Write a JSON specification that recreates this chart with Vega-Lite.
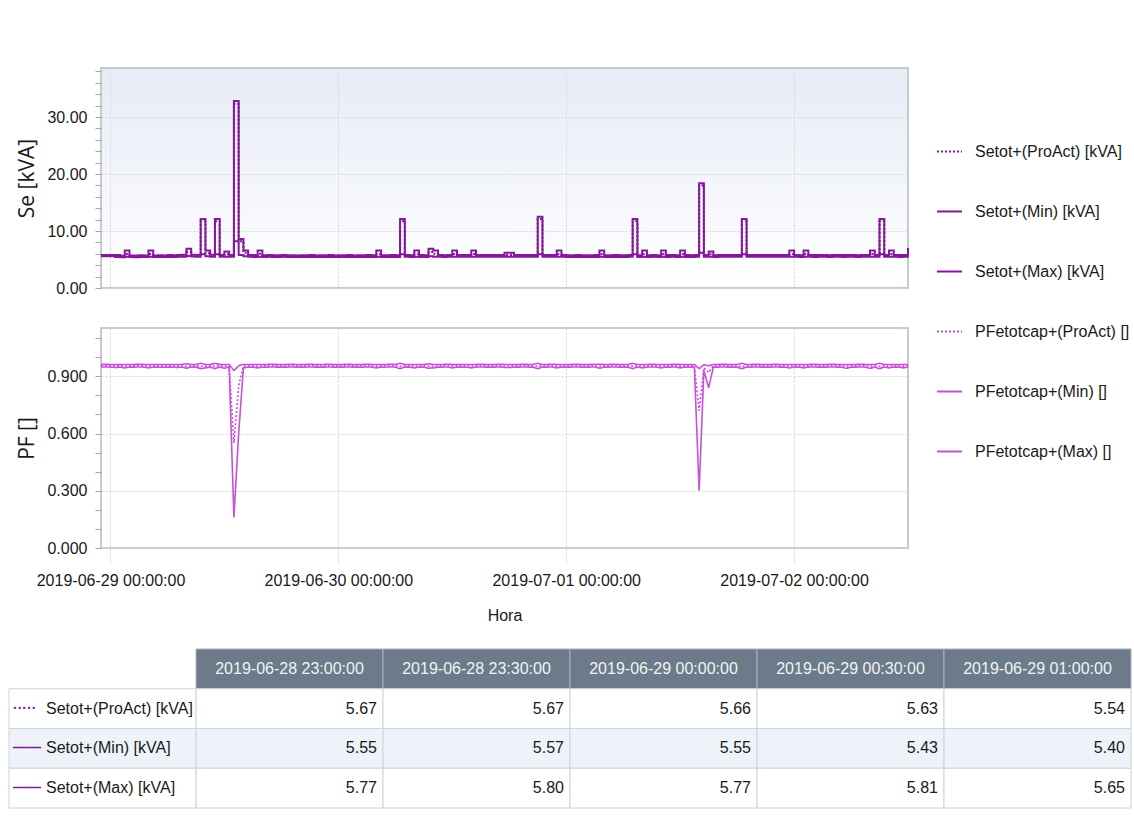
{
"$schema":"https://vega.github.io/schema/vega-lite/v6.json",
"padding":{"left":8,"top":67,"right":0,"bottom":0},
"background":"#ffffff",
"bounds":"flush",
"spacing":40,
"config":{
 "font":"Liberation Sans",
 "axis":{"labelFont":"Liberation Sans","titleFont":"Liberation Sans","labelFontSize":16,"titleFontSize":16,"labelColor":"#1a1a1a","titleColor":"#1a1a1a","titleFontWeight":"normal","domain":false,"gridColor":"#D4D4D4","gridDash":[2,2],"gridWidth":1,"tickColor":"#A6A6A6","labelLimit":400},
 "legend":{"orient":"none","legendX":835,"legendY":70,"title":null,"padding":0,"symbolType":"stroke","symbolSize":625,"symbolStrokeWidth":2,"labelFont":"Liberation Sans","labelFontSize":16,"labelColor":"#1a1a1a","labelOffset":12,"rowPadding":38,"labelLimit":400},
 "view":{"stroke":"#C6CBD1","strokeWidth":2}
},
"datasets":{"d":[
{"t":"2019-06-28T23:00","a":5.67,"n":5.55,"x":5.77,"pa":0.955,"pn":0.948,"px":0.962},
{"t":"2019-06-28T23:30","a":5.67,"n":5.57,"x":5.80,"pa":0.956,"pn":0.949,"px":0.963},
{"t":"2019-06-29T00:00","a":5.66,"n":5.55,"x":5.77,"pa":0.955,"pn":0.948,"px":0.962},
{"t":"2019-06-29T00:30","a":5.63,"n":5.43,"x":5.81,"pa":0.954,"pn":0.946,"px":0.962},
{"t":"2019-06-29T01:00","a":5.54,"n":5.40,"x":5.65,"pa":0.955,"pn":0.948,"px":0.961},
{"t":"2019-06-29T01:30","a":5.95,"n":5.48,"x":6.6,"pa":0.953,"pn":0.944,"px":0.962},
{"t":"2019-06-29T02:00","a":5.58,"n":5.44,"x":5.72,"pa":0.955,"pn":0.948,"px":0.962},
{"t":"2019-06-29T02:30","a":5.55,"n":5.41,"x":5.69,"pa":0.955,"pn":0.948,"px":0.962},
{"t":"2019-06-29T03:00","a":5.6,"n":5.46,"x":5.76,"pa":0.956,"pn":0.949,"px":0.963},
{"t":"2019-06-29T03:30","a":5.57,"n":5.42,"x":5.71,"pa":0.955,"pn":0.948,"px":0.962},
{"t":"2019-06-29T04:00","a":5.95,"n":5.48,"x":6.6,"pa":0.953,"pn":0.944,"px":0.962},
{"t":"2019-06-29T04:30","a":5.56,"n":5.42,"x":5.7,"pa":0.955,"pn":0.948,"px":0.962},
{"t":"2019-06-29T05:00","a":5.59,"n":5.45,"x":5.74,"pa":0.955,"pn":0.948,"px":0.962},
{"t":"2019-06-29T05:30","a":5.57,"n":5.43,"x":5.72,"pa":0.954,"pn":0.947,"px":0.962},
{"t":"2019-06-29T06:00","a":5.61,"n":5.46,"x":5.77,"pa":0.955,"pn":0.948,"px":0.962},
{"t":"2019-06-29T06:30","a":5.58,"n":5.44,"x":5.73,"pa":0.955,"pn":0.948,"px":0.962},
{"t":"2019-06-29T07:00","a":5.63,"n":5.48,"x":5.79,"pa":0.954,"pn":0.946,"px":0.962},
{"t":"2019-06-29T07:30","a":5.66,"n":5.5,"x":5.82,"pa":0.955,"pn":0.948,"px":0.962},
{"t":"2019-06-29T08:00","a":6.3,"n":5.6,"x":6.9,"pa":0.952,"pn":0.942,"px":0.966},
{"t":"2019-06-29T08:30","a":5.68,"n":5.52,"x":5.84,"pa":0.955,"pn":0.948,"px":0.962},
{"t":"2019-06-29T09:00","a":5.65,"n":5.5,"x":5.81,"pa":0.955,"pn":0.948,"px":0.962},
{"t":"2019-06-29T09:30","a":11.7,"n":5.9,"x":12.1,"pa":0.952,"pn":0.94,"px":0.968},
{"t":"2019-06-29T10:00","a":6.1,"n":5.55,"x":6.6,"pa":0.953,"pn":0.944,"px":0.962},
{"t":"2019-06-29T10:30","a":5.66,"n":5.5,"x":5.82,"pa":0.955,"pn":0.948,"px":0.962},
{"t":"2019-06-29T11:00","a":11.7,"n":5.9,"x":12.1,"pa":0.952,"pn":0.94,"px":0.968},
{"t":"2019-06-29T11:30","a":5.64,"n":5.49,"x":5.8,"pa":0.955,"pn":0.948,"px":0.962},
{"t":"2019-06-29T12:00","a":5.9,"n":5.5,"x":6.4,"pa":0.952,"pn":0.942,"px":0.962},
{"t":"2019-06-29T12:30","a":5.63,"n":5.48,"x":5.79,"pa":0.955,"pn":0.948,"px":0.962},
{"t":"2019-06-29T13:00","a":32.3,"n":8.2,"x":32.8,"pa":0.55,"pn":0.16,"px":0.93},
{"t":"2019-06-29T13:30","a":8.2,"n":5.8,"x":8.6,"pa":0.85,"pn":0.6,"px":0.955},
{"t":"2019-06-29T14:00","a":6.2,"n":5.55,"x":6.6,"pa":0.953,"pn":0.944,"px":0.962},
{"t":"2019-06-29T14:30","a":5.64,"n":5.49,"x":5.8,"pa":0.955,"pn":0.948,"px":0.962},
{"t":"2019-06-29T15:00","a":5.61,"n":5.46,"x":5.77,"pa":0.955,"pn":0.948,"px":0.962},
{"t":"2019-06-29T15:30","a":6.0,"n":5.5,"x":6.6,"pa":0.953,"pn":0.944,"px":0.962},
{"t":"2019-06-29T16:00","a":5.6,"n":5.45,"x":5.76,"pa":0.955,"pn":0.948,"px":0.962},
{"t":"2019-06-29T16:30","a":5.62,"n":5.47,"x":5.78,"pa":0.955,"pn":0.948,"px":0.962},
{"t":"2019-06-29T17:00","a":5.59,"n":5.44,"x":5.74,"pa":0.956,"pn":0.949,"px":0.963},
{"t":"2019-06-29T17:30","a":5.6,"n":5.45,"x":5.75,"pa":0.955,"pn":0.948,"px":0.962},
{"t":"2019-06-29T18:00","a":5.62,"n":5.47,"x":5.78,"pa":0.955,"pn":0.948,"px":0.962},
{"t":"2019-06-29T18:30","a":5.58,"n":5.43,"x":5.73,"pa":0.955,"pn":0.948,"px":0.962},
{"t":"2019-06-29T19:00","a":5.6,"n":5.45,"x":5.76,"pa":0.956,"pn":0.949,"px":0.963},
{"t":"2019-06-29T19:30","a":5.57,"n":5.42,"x":5.72,"pa":0.955,"pn":0.948,"px":0.962},
{"t":"2019-06-29T20:00","a":5.6,"n":5.45,"x":5.75,"pa":0.955,"pn":0.948,"px":0.962},
{"t":"2019-06-29T20:30","a":5.58,"n":5.43,"x":5.73,"pa":0.955,"pn":0.948,"px":0.962},
{"t":"2019-06-29T21:00","a":5.61,"n":5.46,"x":5.77,"pa":0.956,"pn":0.949,"px":0.963},
{"t":"2019-06-29T21:30","a":5.57,"n":5.42,"x":5.72,"pa":0.955,"pn":0.948,"px":0.962},
{"t":"2019-06-29T22:00","a":5.6,"n":5.45,"x":5.76,"pa":0.955,"pn":0.948,"px":0.962},
{"t":"2019-06-29T22:30","a":5.58,"n":5.43,"x":5.73,"pa":0.955,"pn":0.948,"px":0.962},
{"t":"2019-06-29T23:00","a":5.61,"n":5.46,"x":5.77,"pa":0.956,"pn":0.949,"px":0.963},
{"t":"2019-06-29T23:30","a":5.57,"n":5.42,"x":5.72,"pa":0.955,"pn":0.948,"px":0.962},
{"t":"2019-06-30T00:00","a":5.6,"n":5.45,"x":5.76,"pa":0.955,"pn":0.948,"px":0.962},
{"t":"2019-06-30T00:30","a":5.58,"n":5.43,"x":5.73,"pa":0.955,"pn":0.948,"px":0.962},
{"t":"2019-06-30T01:00","a":5.61,"n":5.46,"x":5.77,"pa":0.956,"pn":0.949,"px":0.963},
{"t":"2019-06-30T01:30","a":5.57,"n":5.42,"x":5.72,"pa":0.955,"pn":0.948,"px":0.962},
{"t":"2019-06-30T02:00","a":5.6,"n":5.45,"x":5.76,"pa":0.955,"pn":0.948,"px":0.962},
{"t":"2019-06-30T02:30","a":5.58,"n":5.43,"x":5.73,"pa":0.955,"pn":0.948,"px":0.962},
{"t":"2019-06-30T03:00","a":5.61,"n":5.46,"x":5.77,"pa":0.956,"pn":0.949,"px":0.963},
{"t":"2019-06-30T03:30","a":5.59,"n":5.44,"x":5.74,"pa":0.955,"pn":0.948,"px":0.962},
{"t":"2019-06-30T04:00","a":5.95,"n":5.48,"x":6.6,"pa":0.953,"pn":0.944,"px":0.962},
{"t":"2019-06-30T04:30","a":5.6,"n":5.45,"x":5.76,"pa":0.955,"pn":0.948,"px":0.962},
{"t":"2019-06-30T05:00","a":5.58,"n":5.43,"x":5.73,"pa":0.955,"pn":0.948,"px":0.962},
{"t":"2019-06-30T05:30","a":5.61,"n":5.46,"x":5.77,"pa":0.956,"pn":0.949,"px":0.963},
{"t":"2019-06-30T06:00","a":5.59,"n":5.44,"x":5.74,"pa":0.955,"pn":0.948,"px":0.962},
{"t":"2019-06-30T06:30","a":11.7,"n":5.9,"x":12.1,"pa":0.952,"pn":0.94,"px":0.968},
{"t":"2019-06-30T07:00","a":5.62,"n":5.47,"x":5.78,"pa":0.955,"pn":0.948,"px":0.962},
{"t":"2019-06-30T07:30","a":5.6,"n":5.45,"x":5.75,"pa":0.955,"pn":0.948,"px":0.962},
{"t":"2019-06-30T08:00","a":5.95,"n":5.48,"x":6.6,"pa":0.953,"pn":0.944,"px":0.962},
{"t":"2019-06-30T08:30","a":5.61,"n":5.46,"x":5.77,"pa":0.955,"pn":0.948,"px":0.962},
{"t":"2019-06-30T09:00","a":5.6,"n":5.45,"x":5.75,"pa":0.955,"pn":0.948,"px":0.962},
{"t":"2019-06-30T09:30","a":6.3,"n":5.55,"x":6.9,"pa":0.952,"pn":0.942,"px":0.965},
{"t":"2019-06-30T10:00","a":6.0,"n":5.5,"x":6.6,"pa":0.953,"pn":0.944,"px":0.962},
{"t":"2019-06-30T10:30","a":5.62,"n":5.47,"x":5.78,"pa":0.955,"pn":0.948,"px":0.962},
{"t":"2019-06-30T11:00","a":5.6,"n":5.45,"x":5.76,"pa":0.955,"pn":0.948,"px":0.962},
{"t":"2019-06-30T11:30","a":5.63,"n":5.48,"x":5.79,"pa":0.956,"pn":0.949,"px":0.963},
{"t":"2019-06-30T12:00","a":5.95,"n":5.48,"x":6.6,"pa":0.953,"pn":0.944,"px":0.962},
{"t":"2019-06-30T12:30","a":5.62,"n":5.47,"x":5.78,"pa":0.955,"pn":0.948,"px":0.962},
{"t":"2019-06-30T13:00","a":5.64,"n":5.49,"x":5.8,"pa":0.955,"pn":0.948,"px":0.962},
{"t":"2019-06-30T13:30","a":5.62,"n":5.47,"x":5.78,"pa":0.955,"pn":0.948,"px":0.962},
{"t":"2019-06-30T14:00","a":5.95,"n":5.48,"x":6.6,"pa":0.953,"pn":0.944,"px":0.962},
{"t":"2019-06-30T14:30","a":5.63,"n":5.48,"x":5.79,"pa":0.955,"pn":0.948,"px":0.962},
{"t":"2019-06-30T15:00","a":5.64,"n":5.49,"x":5.8,"pa":0.956,"pn":0.949,"px":0.963},
{"t":"2019-06-30T15:30","a":5.62,"n":5.47,"x":5.78,"pa":0.955,"pn":0.948,"px":0.962},
{"t":"2019-06-30T16:00","a":5.64,"n":5.49,"x":5.8,"pa":0.955,"pn":0.948,"px":0.962},
{"t":"2019-06-30T16:30","a":5.63,"n":5.48,"x":5.79,"pa":0.955,"pn":0.948,"px":0.962},
{"t":"2019-06-30T17:00","a":5.64,"n":5.49,"x":5.8,"pa":0.956,"pn":0.949,"px":0.963},
{"t":"2019-06-30T17:30","a":5.8,"n":5.5,"x":6.2,"pa":0.954,"pn":0.946,"px":0.962},
{"t":"2019-06-30T18:00","a":5.8,"n":5.5,"x":6.2,"pa":0.954,"pn":0.946,"px":0.962},
{"t":"2019-06-30T18:30","a":5.64,"n":5.49,"x":5.8,"pa":0.955,"pn":0.948,"px":0.962},
{"t":"2019-06-30T19:00","a":5.63,"n":5.48,"x":5.79,"pa":0.955,"pn":0.948,"px":0.962},
{"t":"2019-06-30T19:30","a":5.65,"n":5.5,"x":5.81,"pa":0.956,"pn":0.949,"px":0.963},
{"t":"2019-06-30T20:00","a":5.64,"n":5.49,"x":5.8,"pa":0.955,"pn":0.948,"px":0.962},
{"t":"2019-06-30T20:30","a":5.63,"n":5.48,"x":5.79,"pa":0.955,"pn":0.948,"px":0.962},
{"t":"2019-06-30T21:00","a":12.1,"n":5.9,"x":12.5,"pa":0.952,"pn":0.94,"px":0.968},
{"t":"2019-06-30T21:30","a":5.64,"n":5.49,"x":5.8,"pa":0.955,"pn":0.948,"px":0.962},
{"t":"2019-06-30T22:00","a":5.63,"n":5.48,"x":5.79,"pa":0.955,"pn":0.948,"px":0.962},
{"t":"2019-06-30T22:30","a":5.64,"n":5.49,"x":5.8,"pa":0.956,"pn":0.949,"px":0.963},
{"t":"2019-06-30T23:00","a":5.95,"n":5.48,"x":6.6,"pa":0.953,"pn":0.944,"px":0.962},
{"t":"2019-06-30T23:30","a":5.62,"n":5.47,"x":5.78,"pa":0.955,"pn":0.948,"px":0.962},
{"t":"2019-07-01T00:00","a":5.6,"n":5.45,"x":5.76,"pa":0.955,"pn":0.948,"px":0.962},
{"t":"2019-07-01T00:30","a":5.58,"n":5.43,"x":5.73,"pa":0.955,"pn":0.948,"px":0.962},
{"t":"2019-07-01T01:00","a":5.61,"n":5.46,"x":5.77,"pa":0.956,"pn":0.949,"px":0.963},
{"t":"2019-07-01T01:30","a":5.58,"n":5.43,"x":5.73,"pa":0.955,"pn":0.948,"px":0.962},
{"t":"2019-07-01T02:00","a":5.6,"n":5.45,"x":5.75,"pa":0.955,"pn":0.948,"px":0.962},
{"t":"2019-07-01T02:30","a":5.58,"n":5.43,"x":5.73,"pa":0.955,"pn":0.948,"px":0.962},
{"t":"2019-07-01T03:00","a":5.61,"n":5.46,"x":5.77,"pa":0.956,"pn":0.949,"px":0.963},
{"t":"2019-07-01T03:30","a":5.95,"n":5.48,"x":6.6,"pa":0.952,"pn":0.942,"px":0.963},
{"t":"2019-07-01T04:00","a":5.6,"n":5.45,"x":5.75,"pa":0.955,"pn":0.948,"px":0.962},
{"t":"2019-07-01T04:30","a":5.58,"n":5.43,"x":5.73,"pa":0.955,"pn":0.948,"px":0.962},
{"t":"2019-07-01T05:00","a":5.61,"n":5.46,"x":5.77,"pa":0.956,"pn":0.949,"px":0.963},
{"t":"2019-07-01T05:30","a":5.59,"n":5.44,"x":5.74,"pa":0.955,"pn":0.948,"px":0.962},
{"t":"2019-07-01T06:00","a":5.6,"n":5.45,"x":5.76,"pa":0.955,"pn":0.948,"px":0.962},
{"t":"2019-07-01T06:30","a":5.62,"n":5.47,"x":5.78,"pa":0.955,"pn":0.948,"px":0.962},
{"t":"2019-07-01T07:00","a":11.7,"n":5.9,"x":12.1,"pa":0.952,"pn":0.94,"px":0.968},
{"t":"2019-07-01T07:30","a":5.6,"n":5.45,"x":5.75,"pa":0.955,"pn":0.948,"px":0.962},
{"t":"2019-07-01T08:00","a":5.95,"n":5.48,"x":6.6,"pa":0.953,"pn":0.944,"px":0.962},
{"t":"2019-07-01T08:30","a":5.6,"n":5.45,"x":5.75,"pa":0.955,"pn":0.948,"px":0.962},
{"t":"2019-07-01T09:00","a":5.62,"n":5.47,"x":5.78,"pa":0.956,"pn":0.949,"px":0.963},
{"t":"2019-07-01T09:30","a":5.6,"n":5.45,"x":5.75,"pa":0.955,"pn":0.948,"px":0.962},
{"t":"2019-07-01T10:00","a":5.95,"n":5.48,"x":6.6,"pa":0.953,"pn":0.944,"px":0.962},
{"t":"2019-07-01T10:30","a":5.61,"n":5.46,"x":5.77,"pa":0.955,"pn":0.948,"px":0.962},
{"t":"2019-07-01T11:00","a":5.62,"n":5.47,"x":5.78,"pa":0.955,"pn":0.948,"px":0.962},
{"t":"2019-07-01T11:30","a":5.6,"n":5.45,"x":5.75,"pa":0.956,"pn":0.949,"px":0.963},
{"t":"2019-07-01T12:00","a":5.95,"n":5.48,"x":6.6,"pa":0.953,"pn":0.944,"px":0.962},
{"t":"2019-07-01T12:30","a":5.61,"n":5.46,"x":5.77,"pa":0.955,"pn":0.948,"px":0.962},
{"t":"2019-07-01T13:00","a":5.6,"n":5.45,"x":5.75,"pa":0.955,"pn":0.948,"px":0.962},
{"t":"2019-07-01T13:30","a":5.62,"n":5.47,"x":5.78,"pa":0.955,"pn":0.948,"px":0.962},
{"t":"2019-07-01T14:00","a":18.0,"n":6.2,"x":18.4,"pa":0.72,"pn":0.3,"px":0.94},
{"t":"2019-07-01T14:30","a":5.64,"n":5.49,"x":5.8,"pa":0.945,"pn":0.93,"px":0.96},
{"t":"2019-07-01T15:00","a":5.9,"n":5.5,"x":6.4,"pa":0.92,"pn":0.84,"px":0.955},
{"t":"2019-07-01T15:30","a":5.6,"n":5.45,"x":5.75,"pa":0.955,"pn":0.948,"px":0.962},
{"t":"2019-07-01T16:00","a":5.62,"n":5.47,"x":5.78,"pa":0.955,"pn":0.948,"px":0.962},
{"t":"2019-07-01T16:30","a":5.64,"n":5.49,"x":5.8,"pa":0.956,"pn":0.949,"px":0.963},
{"t":"2019-07-01T17:00","a":5.63,"n":5.48,"x":5.79,"pa":0.955,"pn":0.948,"px":0.962},
{"t":"2019-07-01T17:30","a":5.64,"n":5.49,"x":5.8,"pa":0.955,"pn":0.948,"px":0.962},
{"t":"2019-07-01T18:00","a":5.63,"n":5.48,"x":5.79,"pa":0.955,"pn":0.948,"px":0.962},
{"t":"2019-07-01T18:30","a":11.7,"n":5.9,"x":12.1,"pa":0.952,"pn":0.94,"px":0.968},
{"t":"2019-07-01T19:00","a":5.64,"n":5.49,"x":5.8,"pa":0.955,"pn":0.948,"px":0.962},
{"t":"2019-07-01T19:30","a":5.63,"n":5.48,"x":5.79,"pa":0.955,"pn":0.948,"px":0.962},
{"t":"2019-07-01T20:00","a":5.64,"n":5.49,"x":5.8,"pa":0.956,"pn":0.949,"px":0.963},
{"t":"2019-07-01T20:30","a":5.65,"n":5.5,"x":5.81,"pa":0.955,"pn":0.948,"px":0.962},
{"t":"2019-07-01T21:00","a":5.64,"n":5.49,"x":5.8,"pa":0.955,"pn":0.948,"px":0.962},
{"t":"2019-07-01T21:30","a":5.63,"n":5.48,"x":5.79,"pa":0.955,"pn":0.948,"px":0.962},
{"t":"2019-07-01T22:00","a":5.64,"n":5.49,"x":5.8,"pa":0.956,"pn":0.949,"px":0.963},
{"t":"2019-07-01T22:30","a":5.65,"n":5.5,"x":5.81,"pa":0.955,"pn":0.948,"px":0.962},
{"t":"2019-07-01T23:00","a":5.64,"n":5.49,"x":5.8,"pa":0.955,"pn":0.948,"px":0.962},
{"t":"2019-07-01T23:30","a":5.95,"n":5.48,"x":6.6,"pa":0.953,"pn":0.944,"px":0.962},
{"t":"2019-07-02T00:00","a":5.62,"n":5.47,"x":5.78,"pa":0.955,"pn":0.948,"px":0.962},
{"t":"2019-07-02T00:30","a":5.6,"n":5.45,"x":5.75,"pa":0.955,"pn":0.948,"px":0.962},
{"t":"2019-07-02T01:00","a":5.95,"n":5.48,"x":6.6,"pa":0.953,"pn":0.944,"px":0.962},
{"t":"2019-07-02T01:30","a":5.62,"n":5.47,"x":5.78,"pa":0.955,"pn":0.948,"px":0.962},
{"t":"2019-07-02T02:00","a":5.61,"n":5.46,"x":5.77,"pa":0.956,"pn":0.949,"px":0.963},
{"t":"2019-07-02T02:30","a":5.63,"n":5.48,"x":5.79,"pa":0.955,"pn":0.948,"px":0.962},
{"t":"2019-07-02T03:00","a":5.62,"n":5.47,"x":5.78,"pa":0.955,"pn":0.948,"px":0.962},
{"t":"2019-07-02T03:30","a":5.6,"n":5.45,"x":5.75,"pa":0.955,"pn":0.948,"px":0.962},
{"t":"2019-07-02T04:00","a":5.62,"n":5.47,"x":5.78,"pa":0.956,"pn":0.949,"px":0.963},
{"t":"2019-07-02T04:30","a":5.63,"n":5.48,"x":5.79,"pa":0.955,"pn":0.948,"px":0.962},
{"t":"2019-07-02T05:00","a":5.61,"n":5.46,"x":5.77,"pa":0.955,"pn":0.948,"px":0.962},
{"t":"2019-07-02T05:30","a":5.63,"n":5.48,"x":5.79,"pa":0.953,"pn":0.942,"px":0.962},
{"t":"2019-07-02T06:00","a":5.62,"n":5.47,"x":5.78,"pa":0.955,"pn":0.948,"px":0.962},
{"t":"2019-07-02T06:30","a":5.6,"n":5.45,"x":5.75,"pa":0.955,"pn":0.948,"px":0.962},
{"t":"2019-07-02T07:00","a":5.63,"n":5.48,"x":5.79,"pa":0.956,"pn":0.949,"px":0.963},
{"t":"2019-07-02T07:30","a":5.64,"n":5.49,"x":5.8,"pa":0.955,"pn":0.948,"px":0.962},
{"t":"2019-07-02T08:00","a":5.95,"n":5.48,"x":6.6,"pa":0.953,"pn":0.942,"px":0.962},
{"t":"2019-07-02T08:30","a":5.62,"n":5.47,"x":5.78,"pa":0.955,"pn":0.948,"px":0.962},
{"t":"2019-07-02T09:00","a":11.7,"n":5.9,"x":12.1,"pa":0.952,"pn":0.94,"px":0.968},
{"t":"2019-07-02T09:30","a":5.63,"n":5.48,"x":5.79,"pa":0.955,"pn":0.948,"px":0.962},
{"t":"2019-07-02T10:00","a":5.95,"n":5.48,"x":6.6,"pa":0.953,"pn":0.944,"px":0.962},
{"t":"2019-07-02T10:30","a":5.62,"n":5.47,"x":5.78,"pa":0.955,"pn":0.948,"px":0.962},
{"t":"2019-07-02T11:00","a":5.61,"n":5.46,"x":5.77,"pa":0.955,"pn":0.948,"px":0.962},
{"t":"2019-07-02T11:30","a":5.63,"n":5.48,"x":5.79,"pa":0.953,"pn":0.944,"px":0.962},
{"t":"2019-07-02T12:00","a":6.3,"n":5.55,"x":7.0,"pa":0.955,"pn":0.948,"px":0.962}
]},
"vconcat":[
 {
  "width":807,"height":220,
  "view":{"fill":{"gradient":"linear","x1":0,"y1":0,"x2":0,"y2":1,"stops":[{"offset":0,"color":"#E6EBF5"},{"offset":1,"color":"#FFFFFF"}]},"stroke":"#C6CBD1","strokeWidth":2},
  "data":{"name":"d"},
  "transform":[{"fold":["a","n","x"],"as":["s","v"]}],
  "mark":{"type":"line","interpolate":"step-after","strokeWidth":2},
  "encoding":{
   "x":{"field":"t","type":"temporal","scale":{"domain":[{"year":2019,"month":6,"date":28,"hours":23},{"year":2019,"month":7,"date":2,"hours":12}]},
        "axis":{"values":[{"year":2019,"month":6,"date":29},{"year":2019,"month":6,"date":30},{"year":2019,"month":7,"date":1},{"year":2019,"month":7,"date":2}],"labels":false,"ticks":false,"title":null,"grid":true}},
   "y":{"field":"v","type":"quantitative","scale":{"domain":[0,38.6],"nice":false,"zero":true},
        "axis":{"title":"Se [kVA]","titleFont":"Open Sans","titleFontSize":21,"titlePadding":9,"values":[0,2,4,6,8,10,12,14,16,18,20,22,24,26,28,30,32,34,36,38],"labelExpr":"datum.value % 10 === 0 ? format(datum.value, '.2f') : ''","tickSize":6,"labelPadding":8,"gridOpacity":{"condition":{"test":"datum.value % 10 === 0","value":1},"value":0}}},
   "color":{"field":"s","type":"nominal","scale":{"domain":["a","n","x","pa","pn","px"],"range":["#84179A","#84179A","#84179A","#C650D6","#C650D6","#C650D6"]},
        "legend":{"labelExpr":"datum.label==='a'?'Setot+(ProAct) [kVA]':datum.label==='n'?'Setot+(Min) [kVA]':datum.label==='x'?'Setot+(Max) [kVA]':datum.label==='pa'?'PFetotcap+(ProAct) []':datum.label==='pn'?'PFetotcap+(Min) []':'PFetotcap+(Max) []'"}},
   "strokeDash":{"field":"s","type":"nominal","scale":{"domain":["a","n","x","pa","pn","px"],"range":[[2,2],[1,0],[1,0],[2,2],[1,0],[1,0]]},
        "legend":{"labelExpr":"datum.label==='a'?'Setot+(ProAct) [kVA]':datum.label==='n'?'Setot+(Min) [kVA]':datum.label==='x'?'Setot+(Max) [kVA]':datum.label==='pa'?'PFetotcap+(ProAct) []':datum.label==='pn'?'PFetotcap+(Min) []':'PFetotcap+(Max) []'"}}
  }
 },
 {
  "width":807,"height":220,
  "view":{"fill":"#FFFFFF","stroke":"#C6CBD1","strokeWidth":2},
  "data":{"name":"d"},
  "transform":[{"fold":["pa","pn","px"],"as":["s","v"]}],
  "mark":{"type":"line","strokeWidth":1.6},
  "encoding":{
   "x":{"field":"t","type":"temporal","scale":{"domain":[{"year":2019,"month":6,"date":28,"hours":23},{"year":2019,"month":7,"date":2,"hours":12}]},
        "axis":{"values":[{"year":2019,"month":6,"date":29},{"year":2019,"month":6,"date":30},{"year":2019,"month":7,"date":1},{"year":2019,"month":7,"date":2}],"format":"%Y-%m-%d %H:%M:%S","title":"Hora","grid":true,"tickSize":14,"tickColor":"#D4D4D4","tickDash":[2,2],"labelPadding":10,"titlePadding":19}},
   "y":{"field":"v","type":"quantitative","scale":{"domain":[0,1.153],"nice":false,"zero":true},
        "axis":{"title":"PF []","titleFont":"Open Sans","titleFontSize":21,"titlePadding":9,"values":[0,0.1,0.2,0.3,0.4,0.5,0.6,0.7,0.8,0.9,1.0,1.1],"labelExpr":"round(datum.value*10) % 3 === 0 ? format(datum.value, '.3f') : ''","tickSize":6,"labelPadding":8,"gridOpacity":{"condition":{"test":"round(datum.value*10) % 3 === 0","value":1},"value":0}}},
   "color":{"field":"s","type":"nominal","scale":{"domain":["a","n","x","pa","pn","px"],"range":["#84179A","#84179A","#84179A","#C650D6","#C650D6","#C650D6"]},
        "legend":{"labelExpr":"datum.label==='a'?'Setot+(ProAct) [kVA]':datum.label==='n'?'Setot+(Min) [kVA]':datum.label==='x'?'Setot+(Max) [kVA]':datum.label==='pa'?'PFetotcap+(ProAct) []':datum.label==='pn'?'PFetotcap+(Min) []':'PFetotcap+(Max) []'"}},
   "strokeDash":{"field":"s","type":"nominal","scale":{"domain":["a","n","x","pa","pn","px"],"range":[[2,2],[1,0],[1,0],[2,2],[1,0],[1,0]]},
        "legend":{"labelExpr":"datum.label==='a'?'Setot+(ProAct) [kVA]':datum.label==='n'?'Setot+(Min) [kVA]':datum.label==='x'?'Setot+(Max) [kVA]':datum.label==='pa'?'PFetotcap+(ProAct) []':datum.label==='pn'?'PFetotcap+(Min) []':'PFetotcap+(Max) []'"}}
  }
 },
 {
  "width":807,"height":220,
  "view":{"stroke":null},
  "data":{"values":[
   {"r":"h","col":"c1","v":"2019-06-28 23:00:00"},
   {"r":"h","col":"c2","v":"2019-06-28 23:30:00"},
   {"r":"h","col":"c3","v":"2019-06-29 00:00:00"},
   {"r":"h","col":"c4","v":"2019-06-29 00:30:00"},
   {"r":"h","col":"c5","v":"2019-06-29 01:00:00"},
   {"r":"a","col":"lab","v":"Setot+(ProAct) [kVA]","m":"·····"},
   {"r":"a","col":"c1","v":"5.67"},
   {"r":"a","col":"c2","v":"5.67"},
   {"r":"a","col":"c3","v":"5.66"},
   {"r":"a","col":"c4","v":"5.63"},
   {"r":"a","col":"c5","v":"5.54"},
   {"r":"n","col":"lab","v":"Setot+(Min) [kVA]","m":"——"},
   {"r":"n","col":"c1","v":"5.55"},
   {"r":"n","col":"c2","v":"5.57"},
   {"r":"n","col":"c3","v":"5.55"},
   {"r":"n","col":"c4","v":"5.43"},
   {"r":"n","col":"c5","v":"5.40"},
   {"r":"x","col":"lab","v":"Setot+(Max) [kVA]","m":"——"},
   {"r":"x","col":"c1","v":"5.77"},
   {"r":"x","col":"c2","v":"5.80"},
   {"r":"x","col":"c3","v":"5.77"},
   {"r":"x","col":"c4","v":"5.81"},
   {"r":"x","col":"c5","v":"5.65"}
  ]},
  "encoding":{
   "x":{"field":"col","type":"nominal","scale":{"domain":["lab","c1","c2","c3","c4","c5"],"range":[-92,1030],"paddingInner":0,"paddingOuter":0},"axis":null},
   "y":{"field":"r","type":"nominal","scale":{"domain":["h","a","n","x"],"range":[61,220],"paddingInner":0,"paddingOuter":0},"axis":null}
  },
  "layer":[
   {"transform":[{"filter":"datum.r==='h'"}],"mark":{"type":"rect","fill":"#6C7B89","stroke":"#A9B2BB","strokeWidth":1}},
   {"transform":[{"filter":"datum.r!=='h'"}],"mark":{"type":"rect","stroke":"#CDD3DA","strokeWidth":1},
    "encoding":{"fill":{"condition":{"test":"datum.r==='n'","value":"#EEF2F9"},"value":"#FFFFFF"}}},
   {"transform":[{"filter":"datum.r==='h'"}],"mark":{"type":"text","fontSize":16,"font":"Liberation Sans","color":"#F2F2F2","align":"center","baseline":"middle"},
    "encoding":{"text":{"field":"v"}}},
   {"transform":[{"filter":"datum.r!=='h' && datum.col!=='lab'"}],"mark":{"type":"text","fontSize":16,"font":"Liberation Sans","color":"#1a1a1a","align":"right","baseline":"middle","dx":-6},
    "encoding":{"x":{"field":"col","type":"nominal","bandPosition":1},"text":{"field":"v"}}},
   {"transform":[{"filter":"datum.col==='lab'"}],"mark":{"type":"text","fontSize":16,"font":"Liberation Sans","color":"#1a1a1a","align":"left","baseline":"middle","dx":37},
    "encoding":{"x":{"field":"col","type":"nominal","bandPosition":0},"text":{"field":"v"}}},
   {"transform":[{"filter":"datum.col==='lab'"}],"mark":{"type":"text","fontSize":14,"font":"Liberation Sans","fontWeight":"bold","color":"#84179A","align":"left","baseline":"middle","dx":4},
    "encoding":{"x":{"field":"col","type":"nominal","bandPosition":0},"text":{"field":"m"}}}
  ]
 }
]
}
